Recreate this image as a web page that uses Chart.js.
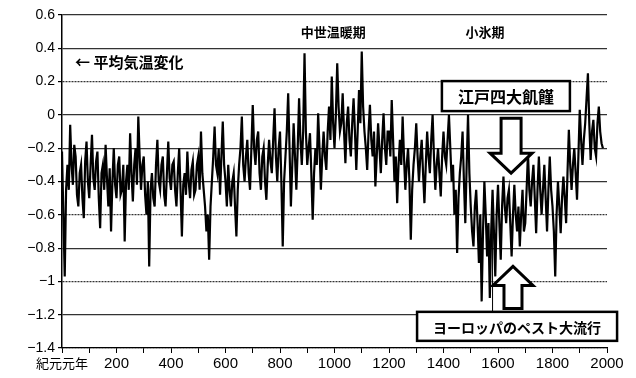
<!DOCTYPE html>
<html>
<head>
<meta charset="utf-8">
<script src="https://cdn.jsdelivr.net/npm/chart.js@4/dist/chart.umd.min.js"></script>
<style>
  html, body { margin: 0; padding: 0; background: #fff; }
  #wrap { width: 636px; height: 378px; }
</style>
</head>
<body>
<div id="wrap"><canvas id="c" width="636" height="378"></canvas></div>
<script>
// years (every 5 years)
const years = [
  0, 5, 10, 15, 20, 25, 30, 35, 40, 45, 50, 55, 60, 65, 70, 75, 80, 85, 90, 95,
  100, 105, 110, 115, 120, 125, 130, 135, 140, 145, 150, 155, 160, 165, 170, 175, 180, 185, 190, 195,
  200, 205, 210, 215, 220, 225, 230, 235, 240, 245, 250, 255, 260, 265, 270, 275, 280, 285, 290, 295,
  300, 305, 310, 315, 320, 325, 330, 335, 340, 345, 350, 355, 360, 365, 370, 375, 380, 385, 390, 395,
  400, 405, 410, 415, 420, 425, 430, 435, 440, 445, 450, 455, 460, 465, 470, 475, 480, 485, 490, 495,
  500, 505, 510, 515, 520, 525, 530, 535, 540, 545, 550, 555, 560, 565, 570, 575, 580, 585, 590, 595,
  600, 605, 610, 615, 620, 625, 630, 635, 640, 645, 650, 655, 660, 665, 670, 675, 680, 685, 690, 695,
  700, 705, 710, 715, 720, 725, 730, 735, 740, 745, 750, 755, 760, 765, 770, 775, 780, 785, 790, 795,
  800, 805, 810, 815, 820, 825, 830, 835, 840, 845, 850, 855, 860, 865, 870, 875, 880, 885, 890, 895,
  900, 905, 910, 915, 920, 925, 930, 935, 940, 945, 950, 955, 960, 965, 970, 975, 980, 985, 990, 995,
  1000, 1005, 1010, 1015, 1020, 1025, 1030, 1035, 1040, 1045, 1050, 1055, 1060, 1065, 1070, 1075, 1080, 1085, 1090, 1095,
  1100, 1105, 1110, 1115, 1120, 1125, 1130, 1135, 1140, 1145, 1150, 1155, 1160, 1165, 1170, 1175, 1180, 1185, 1190, 1195,
  1200, 1205, 1210, 1215, 1220, 1225, 1230, 1235, 1240, 1245, 1250, 1255, 1260, 1265, 1270, 1275, 1280, 1285, 1290, 1295,
  1300, 1305, 1310, 1315, 1320, 1325, 1330, 1335, 1340, 1345, 1350, 1355, 1360, 1365, 1370, 1375, 1380, 1385, 1390, 1395,
  1400, 1405, 1410, 1415, 1420, 1425, 1430, 1435, 1440, 1445, 1450, 1455, 1460, 1465, 1470, 1475, 1480, 1485, 1490, 1495,
  1500, 1505, 1510, 1515, 1520, 1525, 1530, 1535, 1540, 1545, 1550, 1555, 1560, 1565, 1570, 1575, 1580, 1585, 1590, 1595,
  1600, 1605, 1610, 1615, 1620, 1625, 1630, 1635, 1640, 1645, 1650, 1655, 1660, 1665, 1670, 1675, 1680, 1685, 1690, 1695,
  1700, 1705, 1710, 1715, 1720, 1725, 1730, 1735, 1740, 1745, 1750, 1755, 1760, 1765, 1770, 1775, 1780, 1785, 1790, 1795,
  1800, 1805, 1810, 1815, 1820, 1825, 1830, 1835, 1840, 1845, 1850, 1855, 1860, 1865, 1870, 1875, 1880, 1885, 1890, 1895,
  1900, 1905, 1910, 1915, 1920, 1925, 1930, 1935, 1940, 1945, 1950, 1955, 1960, 1965, 1970, 1975, 1980, 1985
];

// temperature change (deg C)
const tempChange = [
  -0.22, -0.60, -0.97, -0.45, -0.30, -0.45, -0.06, -0.30, -0.42, -0.18, -0.25, -0.48, -0.55, -0.35, -0.30, -0.50, -0.62, -0.28, -0.16, -0.40,
  -0.50, -0.30, -0.12, -0.38, -0.45, -0.28, -0.22, -0.50, -0.68, -0.35, -0.30, -0.45, -0.18, -0.38, -0.55, -0.32, -0.70, -0.40, -0.20, -0.42,
  -0.50, -0.30, -0.25, -0.48, -0.45, -0.30, -0.76, -0.40, -0.30, -0.45, -0.11, -0.35, -0.52, -0.30, -0.20, -0.42, -0.01, -0.25, -0.45, -0.30,
  -0.25, -0.48, -0.60, -0.40, -0.91, -0.45, -0.35, -0.50, -0.55, -0.30, -0.15, -0.40, -0.45, -0.30, -0.25, -0.48, -0.55, -0.35, -0.16, -0.38,
  -0.45, -0.30, -0.28, -0.45, -0.55, -0.35, -0.20, -0.45, -0.73, -0.42, -0.35, -0.48, -0.22, -0.40, -0.50, -0.33, -0.28, -0.48, -0.45, -0.30,
  -0.25, -0.45, -0.10, -0.35, -0.45, -0.55, -0.70, -0.60, -0.87, -0.55, -0.40, -0.25, -0.07, -0.30, -0.35, -0.20, -0.48, -0.25, -0.04, -0.30,
  -0.40, -0.55, -0.30, -0.45, -0.55, -0.40, -0.35, -0.55, -0.73, -0.45, -0.30, -0.20, -0.01, -0.30, -0.40, -0.25, -0.15, -0.35, -0.45, -0.20,
  0.06, -0.20, -0.30, -0.15, -0.10, -0.35, -0.45, -0.25, -0.20, -0.40, -0.51, -0.30, -0.15, -0.28, -0.35, -0.15, 0.04, -0.25, -0.40, -0.20,
  -0.10, -0.40, -0.79, -0.40, -0.25, -0.10, 0.13, -0.20, -0.55, -0.30, -0.05, -0.25, -0.45, -0.20, 0.10, -0.15, -0.30, -0.10, 0.37, -0.10,
  -0.30, -0.20, -0.11, -0.35, -0.63, -0.35, -0.20, -0.30, 0.01, -0.20, -0.45, -0.25, -0.10, -0.25, -0.33, -0.10, 0.05, -0.15, 0.23, -0.05,
  -0.20, 0.00, 0.31, 0.05, -0.10, -0.05, 0.13, -0.10, -0.29, -0.05, 0.05, -0.15, -0.25, -0.05, 0.10, -0.10, -0.33, -0.10, 0.15, -0.05,
  0.38, 0.05, -0.10, -0.20, -0.33, -0.10, 0.06, -0.15, -0.25, -0.10, -0.43, -0.25, -0.05, -0.20, -0.35, -0.15, 0.01, -0.20, -0.30, -0.10,
  -0.10, -0.25, 0.09, -0.15, -0.40, -0.25, -0.53, -0.30, -0.15, -0.30, -0.01, -0.25, -0.45, -0.30, -0.20, -0.40, -0.75, -0.45, -0.30, -0.20,
  -0.05, -0.25, -0.40, -0.25, -0.15, -0.35, -0.53, -0.30, -0.10, -0.25, -0.35, -0.15, 0.00, -0.25, -0.45, -0.30, -0.20, -0.35, -0.49, -0.25,
  -0.10, -0.25, -0.30, -0.15, 0.00, -0.20, -0.40, -0.30, -0.60, -0.45, -0.83, -0.50, -0.35, -0.25, -0.10, -0.40, -0.65, -0.30, 0.00, -0.35,
  -0.55, -0.70, -0.79, -0.55, -0.45, -0.65, -0.89, -0.60, -1.12, -0.70, -0.40, -0.60, -0.85, -0.65, -1.10, -0.70, -0.45, -0.70, -0.97, -0.60,
  -0.42, -0.65, -0.87, -0.55, -0.37, -0.55, -0.65, -0.50, -0.45, -0.65, -0.85, -0.60, -0.42, -0.60, -0.70, -0.55, -0.79, -0.60, -0.45, -0.70,
  -0.65, -0.45, -0.23, -0.45, -0.55, -0.40, -0.30, -0.50, -0.71, -0.45, -0.25, -0.45, -0.60, -0.45, -0.30, -0.50, -0.70, -0.45, -0.25, -0.45,
  -0.55, -0.70, -0.97, -0.60, -0.40, -0.55, -0.71, -0.50, -0.37, -0.50, -0.65, -0.35, -0.09, -0.30, -0.45, -0.30, -0.20, -0.35, -0.51, -0.25,
  0.03, -0.15, -0.30, -0.15, -0.05, 0.10, 0.25, -0.05, -0.27, -0.10, -0.03, -0.20, -0.25, -0.05, 0.05, -0.10, -0.17, -0.20
];

const yTicks = [0.6, 0.4, 0.2, 0, -0.2, -0.4, -0.6, -0.8, -1, -1.2, -1.4];
const dottedRows = [0.2, -0.6, -1, -1.4];

const periodLabels = [
  { text: "中世温暖期", year: 995, value: 0.495 },
  { text: "小氷期", year: 1552, value: 0.495 }
];

const cjk = '"Noto Sans CJK JP", "Liberation Sans", sans-serif';

function fmt(v) {
  const r = Math.round(v * 10) / 10;
  if (r === 0) return "0";
  return (r < 0 ? "\u2212" : "") + Math.abs(r).toString();
}

function hollowArrow(ctx, tipX, tipY, dir, len, shaftHalf, headHalf, headLen) {
  // dir = 1 pointing down, -1 pointing up
  const baseY = tipY - dir * headLen;
  const endY = tipY - dir * len;
  ctx.beginPath();
  ctx.moveTo(tipX, tipY);
  ctx.lineTo(tipX + headHalf, baseY);
  ctx.lineTo(tipX + shaftHalf, baseY);
  ctx.lineTo(tipX + shaftHalf, endY);
  ctx.lineTo(tipX - shaftHalf, endY);
  ctx.lineTo(tipX - shaftHalf, baseY);
  ctx.lineTo(tipX - headHalf, baseY);
  ctx.closePath();
  ctx.fillStyle = "#fff";
  ctx.fill();
  ctx.lineWidth = 3;
  ctx.strokeStyle = "#000";
  ctx.stroke();
}

function labelBox(ctx, cx, cy, w, h, text, size) {
  ctx.fillStyle = "#fff";
  ctx.fillRect(cx - w / 2, cy - h / 2, w, h);
  ctx.lineWidth = 2.5;
  ctx.strokeStyle = "#000";
  ctx.strokeRect(cx - w / 2, cy - h / 2, w, h);
  ctx.fillStyle = "#000";
  ctx.font = "bold " + size + "px " + cjk;
  ctx.textAlign = "center";
  ctx.textBaseline = "middle";
  ctx.fillText(text, cx, cy + 1);
}

const notes = {
  id: "notes",
  afterDraw(chart) {
    const { ctx, scales } = chart;
    const sx = (v) => scales.x.getPixelForValue(v);
    const sy = (v) => scales.y.getPixelForValue(v);
    ctx.save();

    ctx.fillStyle = "#000";
    ctx.font = "bold 13px " + cjk;
    ctx.textAlign = "center";
    ctx.textBaseline = "middle";
    periodLabels.forEach((p) => ctx.fillText(p.text, sx(p.year), sy(p.value)));

    ctx.font = "bold 15px " + cjk;
    ctx.textAlign = "left";
    ctx.fillText("\u2190 平均気温変化", sx(48), sy(0.315));

    // pointer line down to the plague box
    ctx.beginPath();
    ctx.lineWidth = 1;
    ctx.strokeStyle = "#000";
    ctx.moveTo(sx(1580), sy(-0.55));
    ctx.lineTo(sx(1580), sy(-1.27) - 14);
    ctx.stroke();

    labelBox(ctx, sx(1629), sy(0.113), 128, 30, "江戸四大飢饉", 16);
    hollowArrow(ctx, sx(1648), sy(-0.35), 1, 55, 10, 21, 20);
    hollowArrow(ctx, sx(1655), sy(-0.91), -1, 42, 9, 20, 19);
    labelBox(ctx, sx(1670), sy(-1.27), 200, 29, "ヨーロッパのペスト大流行", 14);

    ctx.restore();
  }
};

new Chart(document.getElementById("c"), {
  type: "line",
  data: {
    datasets: [{
      label: "平均気温変化",
      data: years.map((y, i) => ({ x: y, y: tempChange[i] })),
      borderColor: "#000",
      borderWidth: 2.2,
      pointRadius: 0,
      tension: 0,
      fill: false
    }]
  },
  options: {
    responsive: false,
    animation: false,
    layout: { padding: { top: 15, right: 29, left: 0, bottom: 0 } },
    plugins: { legend: { display: false }, tooltip: { enabled: false } },
    scales: {
      x: {
        type: "linear",
        min: 0,
        max: 2000,
        afterFit: (s) => { s.height = 30; },
        ticks: {
          stepSize: 100,
          autoSkip: false,
          maxRotation: 0,
          color: "#000",
          padding: 2,
          font: (ctx) => ({
            family: ctx.tick && ctx.tick.value === 0 ? cjk : '"Liberation Sans", sans-serif',
            size: ctx.tick && ctx.tick.value === 0 ? 13 : 15
          }),
          callback: (v) => (v % 200 === 0 ? (v === 0 ? "紀元元年" : String(v)) : "")
        },
        grid: { drawOnChartArea: false, drawTicks: true, tickLength: 5, color: "#000" },
        border: { display: true, color: "#000", width: 1.2 }
      },
      y: {
        min: -1.4,
        max: 0.6,
        afterFit: (s) => { s.width = 62; },
        afterBuildTicks: (s) => { s.ticks = yTicks.map((v) => ({ value: v })); },
        ticks: {
          color: "#000",
          padding: 3,
          font: { family: '"Liberation Sans", sans-serif', size: 14 },
          callback: (v) => fmt(v)
        },
        grid: {
          color: "#333",
          lineWidth: 1.2,
          drawTicks: true,
          tickLength: 4,
          tickColor: "#000"
        },
        border: {
          display: true,
          color: "#000",
          width: 1.5,
          dash: (ctx) => (ctx.tick && dottedRows.some((d) => Math.abs(d - ctx.tick.value) < 1e-6) ? [2, 1] : [])
        }
      }
    }
  },
  plugins: [notes]
});
</script>
</body>
</html>
